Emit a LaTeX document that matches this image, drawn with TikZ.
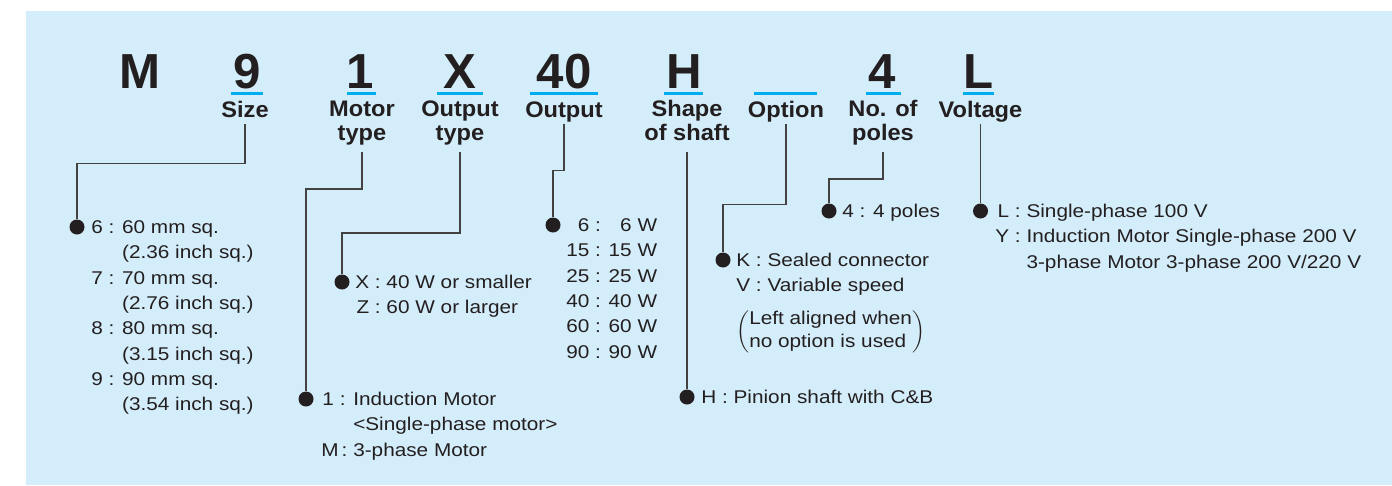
\documentclass[tikz,border=0pt]{standalone}
\usepackage{fontspec}
\setmainfont{Liberation Sans}
\newfontfamily\bodyfont[FakeStretch=1.125]{Liberation Sans}
\newfontfamily\labfont[FakeStretch=1.05]{Liberation Sans}
\usetikzlibrary{positioning}
\definecolor{bgblue}{RGB}{212,237,250}
\definecolor{ulblue}{RGB}{0,174,239}
\definecolor{ink}{RGB}{35,31,32}

\begin{document}
\begin{tikzpicture}[
 code/.style={font=\fontsize{28}{30}\selectfont\bfseries,text=ink,anchor=base,inner sep=0pt},
 lab/.style={font=\labfont\fontsize{12.8}{13.3}\selectfont\bfseries,text=ink,anchor=base,align=center,inner sep=0pt},
 lab2/.style={lab,outer ysep=0.1cm},
 txt/.style={font=\bodyfont\fontsize{10.5}{14.4}\selectfont,text=ink,anchor=base west,inner sep=0pt},
 dot/.style={circle,fill=ink,minimum size=0.3cm,inner sep=0pt},
 wire/.style={draw=ink!85,line width=0.6pt},
 uline/.style={draw=ulblue,line width=1.5pt}]
\useasboundingbox (0,0) rectangle (27.84,-9.70);
\fill[bgblue] (0.52,-0.22) rectangle (27.84,-9.70);
% model code
\node[code] (cM) at (2.80,-1.76) {M};
\node[code] (c9) at (4.94,-1.76) {9};
\node[code] (c1) at (7.20,-1.76) {1};
\node[code] (cX) at (9.20,-1.76) {X};
\node[code] (c40) at (11.28,-1.76) {40};
\node[code] (cH) at (13.68,-1.76) {H};
\node[code] (c4) at (17.64,-1.76) {4};
\node[code] (cL) at (19.58,-1.76) {L};
\draw[uline] (4.62,-1.874) -- (5.26,-1.874); \draw[uline] (6.94,-1.874) -- (7.52,-1.874);
\draw[uline] (8.74,-1.874) -- (9.66,-1.874); \draw[uline] (10.60,-1.874) -- (11.96,-1.874);
\draw[uline] (13.28,-1.874) -- (14.06,-1.874); \draw[uline] (15.08,-1.874) -- (16.34,-1.874);
\draw[uline] (17.32,-1.874) -- (18.02,-1.874); \draw[uline] (19.26,-1.874) -- (19.88,-1.874);
% field names (two-line ones sit on their last line)
\node[lab] (lSize) at (4.90,-2.34) {Size\strut};
\node[lab2] (lMotor) at (7.24,-2.80) {Motor\strut\\type\strut};
\node[lab2] (lOuttype) at (9.20,-2.80) {Output\strut\\type\strut};
\node[lab] (lOutput) at (11.28,-2.34) {Output\strut};
\node[lab2] (lShaft) at (13.74,-2.80) {Shape\strut\\of shaft\strut};
\node[lab] (lOption) at (15.72,-2.34) {Option\strut};
\node[lab2] (lPoles) at (17.66,-2.80) {No. of\strut\\poles\strut};
\node[lab] (lVolt) at (19.61,-2.34) {Voltage\strut};
% dots
\node[dot] (dSize) at (1.54,-4.54) {};
\node[dot] (dMotor) at (6.12,-7.98) {};
\node[dot] (dOuttype) at (6.84,-5.64) {};
\node[dot] (dOutput) at (11.06,-4.50) {};
\node[dot] (dShaft) at (13.74,-7.94) {};
\node[dot] (dOption) at (14.46,-5.20) {};
\node[dot] (dPoles) at (16.58,-4.22) {};
\node[dot] (dVolt) at (19.61,-4.22) {};
\draw[wire] (lSize.south) -- ++(0,-0.78) -| (dSize.north);
\draw[wire] (lMotor.south) -- ++(0,-0.74) -| (dMotor.north);
\draw[wire] (lOuttype.south) -- ++(0,-1.62) -| (dOuttype.north);
\draw[wire] (lOutput.south) -- ++(0,-0.92) -| (dOutput.north);
\draw[wire] (lShaft.south) -- (dShaft.north);
\draw[wire] (lOption.south) -- ++(0,-1.60) -| (dOption.north);
\draw[wire] (lPoles.south) -- ++(0,-0.54) -| (dPoles.north);
\draw[wire] (lVolt.south) -- (dVolt.north);
% choices
\node[txt] (tSize) at (1.82,-4.67) {\begin{tabular}[t]{@{}r@{ }l@{}}
6 :&60 mm sq.\\ &(2.36 inch sq.)\\ 7 :&70 mm sq.\\ &(2.76 inch sq.)\\
8 :&80 mm sq.\\ &(3.15 inch sq.)\\ 9 :&90 mm sq.\\ &(3.54 inch sq.)\end{tabular}};
\node[txt] (tMotor) at (6.42,-8.11) {\begin{tabular}[t]{@{}r@{ }l@{}}
1 :&Induction Motor\\ &<Single-phase motor>\\ M\,:&3-phase Motor\end{tabular}};
\node[txt] (tOuttype) at (7.10,-5.77) {\begin{tabular}[t]{@{}r@{ }l@{}}
X :&40 W or smaller\\ Z :&60 W or larger\end{tabular}};
\node[txt] (tOutput) at (11.32,-4.63) {\begin{tabular}[t]{@{}r@{ : }r@{}}
6&6 W\\ 15&15 W\\ 25&25 W\\ 40&40 W\\ 60&60 W\\ 90&90 W\end{tabular}};
\node[txt] (tShaft) at (14.02,-8.07) {H : Pinion shaft with C\&B};
\node[txt] (tOption) at (14.72,-5.33) {\begin{tabular}[t]{@{}r@{ }l@{}}
K :&Sealed connector\\ V :&Variable speed\end{tabular}};
\node[txt,anchor=west] (tNote) at (14.72,-6.63) {\renewcommand\arraystretch{0.92}%
$\left(\begin{tabular}{@{}l@{}}Left aligned when\\no option is used\end{tabular}\right)$};
\node[txt] (tPoles) at (16.84,-4.35) {4 : 4 poles};
\node[txt] (tVolt) at (19.90,-4.35) {\begin{tabular}[t]{@{}r@{ }l@{}}
L :&Single-phase 100 V\\ Y :&Induction Motor Single-phase 200 V\\
 &3-phase Motor 3-phase 200 V/220 V\end{tabular}};
\end{tikzpicture}
\end{document}
